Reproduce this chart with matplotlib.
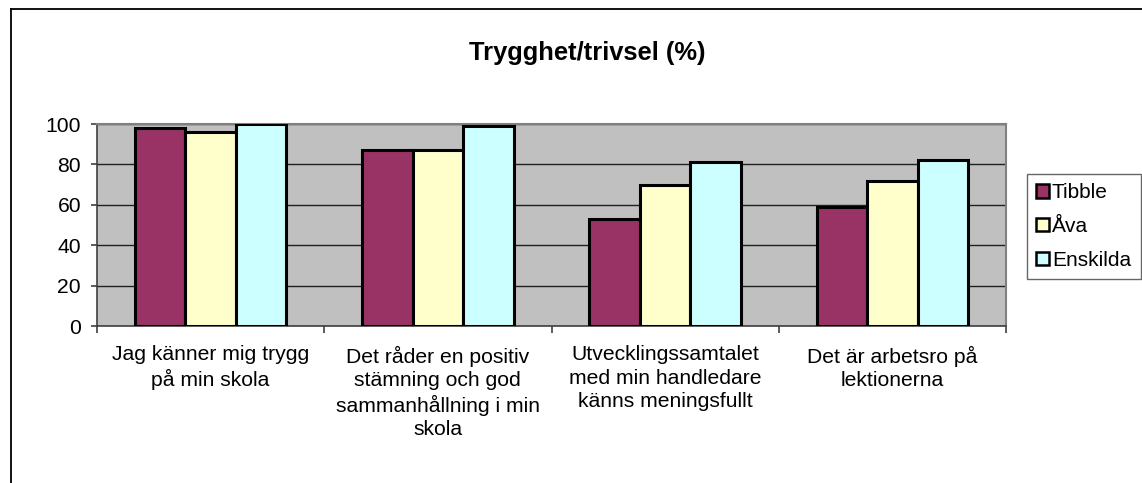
import matplotlib
matplotlib.use("Agg")
import numpy as np
import matplotlib.pyplot as plt
from matplotlib.lines import Line2D
from matplotlib.patches import Patch

plt.rcParams['font.family'] = ['Liberation Sans', 'DejaVu Sans']

title = 'Trygghet/trivsel (%)'
categories = [
    'Jag känner mig trygg\npå min skola',
    'Det råder en positiv\nstämning och god\nsammanhållning i min\nskola',
    'Utvecklingssamtalet\nmed min handledare\nkänns meningsfullt',
    'Det är arbetsro på\nlektionerna',
]
series_names = ['Tibble', 'Åva', 'Enskilda']
tibble = [98, 87, 53, 59]
ava = [96, 87, 70, 72]
enskilda = [100, 99, 81, 82]
colors = ['#993366', '#FFFFCC', '#CCFFFF']
yticks = [0, 20, 40, 60, 80, 100]

W, H = 1142, 483
fig = plt.figure(figsize=(W / 100, H / 100), dpi=100)
ax = fig.add_axes([97 / W, 1 - 326 / H, 909 / W, 202 / H])
ax.set_facecolor('#C0C0C0')

x = np.arange(len(categories))
bw = 1 / 4.5
for i, (vals, col) in enumerate(zip([tibble, ava, enskilda], colors)):
    ax.bar(x + (i - 1) * bw, vals, width=bw, color=col,
           edgecolor='black', linewidth=2.2, zorder=3)

ax.set_xlim(-0.5, len(categories) - 0.5)
ax.set_ylim(0, 100)
ax.set_yticks(yticks)
ax.yaxis.grid(True, color='#202020', linewidth=1.0, zorder=1)
ax.set_axisbelow(True)

ax.set_xticks(x)
ax.set_xticklabels(categories, fontsize=15.2, linespacing=1.28,
                   va='top', ha='center')
ax.tick_params(axis='x', which='major', length=0, pad=14)
ax.set_xticks(np.arange(len(categories) + 1) - 0.5, minor=True)
ax.tick_params(axis='x', which='minor', length=5, width=1.2,
               color='#404040', direction='out')
ax.tick_params(axis='y', labelsize=15.2, length=4, width=1.2,
               color='#404040', pad=7.5)

for side in ['top', 'right']:
    ax.spines[side].set_color('#808080')
    ax.spines[side].set_linewidth(1.5)
for side in ['left', 'bottom']:
    ax.spines[side].set_color('#404040')
    ax.spines[side].set_linewidth(1.2)

fig.text(587.5 / W, 1 - 53 / H, title, fontsize=18.4, fontweight='bold',
         ha='center', va='center')

handles = [Patch(facecolor=c, edgecolor='black', linewidth=1.8) for c in colors]
leg = fig.legend(handles, series_names, loc='upper left',
                 bbox_to_anchor=(1027 / W, 1 - 174 / H),
                 fontsize=15, frameon=True, fancybox=False,
                 edgecolor='#404040', handlelength=0.6, handleheight=0.6,
                 handletextpad=0.15, borderpad=0.45, labelspacing=0.7,
                 borderaxespad=0)
leg.get_frame().set_linewidth(1.0)

# outer chart border (left and top edges visible)
fig.add_artist(Line2D([11 / W, 11 / W], [0, 1 - 9 / H], color='black',
                      linewidth=1.3, transform=fig.transFigure))
fig.add_artist(Line2D([11 / W, 1], [1 - 9 / H, 1 - 9 / H], color='black',
                      linewidth=1.3, transform=fig.transFigure))

fig.savefig('out.png', dpi=100)
